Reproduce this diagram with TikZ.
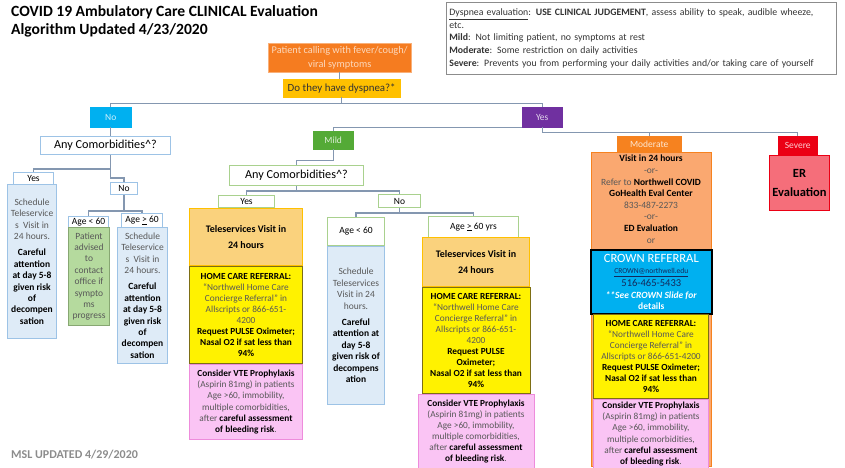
\documentclass[tikz,border=0pt]{standalone}
\usepackage{fontspec}
\setmainfont{Carlito}
\usetikzlibrary{positioning}

\definecolor{wirecol}{RGB}{132,151,176}
\definecolor{txtgray}{RGB}{88,88,88}
\definecolor{patorange}{RGB}{245,124,32}
\definecolor{amber}{RGB}{255,192,0}
\definecolor{nocyan}{RGB}{0,176,240}
\definecolor{yespurple}{RGB}{112,48,160}
\definecolor{mildgreen}{RGB}{84,170,54}
\definecolor{modorange}{RGB}{246,130,31}
\definecolor{sevred}{RGB}{235,0,20}
\definecolor{erpink}{RGB}{245,110,122}
\definecolor{peach}{RGB}{250,168,112}
\definecolor{tagblue}{RGB}{157,195,230}
\definecolor{paleblue}{RGB}{222,235,247}
\definecolor{taggreen}{RGB}{169,209,142}
\definecolor{palegreen}{RGB}{181,218,158}
\definecolor{lightamber}{RGB}{250,210,125}
\definecolor{yellowedge}{RGB}{125,110,20}
\definecolor{palepink}{RGB}{250,196,244}
\definecolor{pinkedge}{RGB}{238,140,220}
\definecolor{navy}{RGB}{20,40,90}
\definecolor{stampgray}{RGB}{140,140,140}

\newcommand{\bfk}[1]{\textbf{\color{black}#1}}

\begin{document}
\begin{tikzpicture}[x=1pt, y=-1pt,
  base/.style={align=center, inner sep=1pt, anchor=north west,
               font=\fontsize{9.5}{11.4}\selectfont},
  tag/.style={base, draw, fill=white, line width=1pt},
  bluetag/.style={tag, draw=tagblue},
  greentag/.style={tag, draw=taggreen},
  chip/.style={base, fill=#1, draw=#1, text=white!80!#1},
  bluebox/.style={base, draw=tagblue, fill=paleblue, text=txtgray, line width=1pt},
  greenbox/.style={base, draw=taggreen!80!black, fill=palegreen, text=txtgray, line width=1pt},
  telebox/.style={base, draw=amber, fill=lightamber, line width=1pt,
                  font=\fontsize{10}{12}\selectfont},
  homebox/.style={base, draw=yellowedge, fill=yellow, text=txtgray, line width=1pt,
                  font=\fontsize{9.3}{10.9}\selectfont},
  vtebox/.style={base, draw=pinkedge, fill=palepink, text=txtgray, line width=1pt,
                 font=\fontsize{9.3}{11.1}\selectfont},
  wire/.style={draw=wirecol, line width=1.4pt}
]
\useasboundingbox (0,0) rectangle (845,467);

% header and legend
\node[base, align=left, font=\fontsize{15.6}{18.5}\selectfont\bfseries] (title) at (10,4)
  {COVID 19 Ambulatory Care CLINICAL Evaluation\\Algorithm Updated 4/23/2020};
\node[base, draw=black!45, line width=0.8pt, align=left, text width=384pt, inner sep=3pt,
      text=black!80, font=\fontsize{9.8}{12.6}\selectfont, minimum height=72pt] (legend) at (446,2)
  {\underline{Dyspnea evaluation}: \textbf{USE CLINICAL JUDGEMENT}, assess ability to speak, audible wheeze,\\
   etc.\\
   \textbf{Mild}: Not limiting patient, no symptoms at rest\\
   \textbf{Moderate}: Some restriction on daily activities\\
   \textbf{Severe}: Prevents you from performing your daily activities and/or taking care of yourself};

% entry
\node[base, fill=patorange, draw=patorange!60!white, text=white!70!patorange,
      font=\fontsize{10.3}{14.5}\selectfont, minimum width=143pt, minimum height=29pt] (call) at (268,43)
  {Patient calling with fever/cough/\\viral symptoms};
\node[base, fill=amber, draw=amber, text=black!80, font=\fontsize{10.9}{12}\selectfont,
      minimum width=117pt, minimum height=18pt] (dysp) at (283,79) {Do they have dyspnea?*};

% severity chips
\node[chip=nocyan, minimum width=41pt, minimum height=20pt] (no) at (90,107) {No};
\node[chip=yespurple, minimum width=40pt, minimum height=20pt] (yes) at (522,107) {Yes};
\node[chip=mildgreen, minimum width=40pt, minimum height=18pt] (mild) at (313,131) {Mild};
\node[chip=modorange, minimum width=64pt, minimum height=16pt] (moderate) at (617,136) {Moderate};
\node[chip=sevred, minimum width=39pt, minimum height=18pt] (severe) at (778,136) {Severe};

% no dyspnea branch
\node[bluetag, font=\fontsize{12.2}{13}\selectfont, minimum width=130pt, minimum height=18pt] (comorbNo) at (40,136)
  {Any Comorbidities\textasciicircum?};
\node[bluetag, minimum width=40pt, minimum height=12pt] (yesNo) at (13,172) {Yes};
\node[bluebox, minimum width=49pt, minimum height=154pt] (teleNoYes) at (7,184)
  {Schedule\\Teleservice\\s~ Visit in\\24 hours.\\[5pt]\bfk{Careful}\\\bfk{attention}\\\bfk{at day 5-8}\\
   \bfk{given risk}\\\bfk{of}\\\bfk{decompen}\\\bfk{sation}};
\node[bluetag, minimum width=27pt, minimum height=12pt] (noNo) at (110,182) {No};
\node[bluetag, minimum width=40pt, minimum height=11pt] (youngNo) at (68,216) {Age < 60};
\node[greenbox, minimum width=41pt, minimum height=98pt] (advise) at (68,227)
  {Patient\\advised\\to\\contact\\office if\\sympto\\ms\\progress};
\node[bluetag, minimum width=41pt, minimum height=14pt] (oldNo) at (121,213) {Age \underline{>} 60};
\node[bluebox, minimum width=50pt, minimum height=136pt] (teleNoOld) at (117,227)
  {Schedule\\Teleservice\\s~ Visit in\\24 hours.\\[5pt]\bfk{Careful}\\\bfk{attention}\\\bfk{at day 5-8}\\
   \bfk{given risk}\\\bfk{of}\\\bfk{decompen}\\\bfk{sation}};

% mild branch
\node[greentag, font=\fontsize{12.2}{13}\selectfont, minimum width=134pt, minimum height=20pt] (comorbMild) at (229,165)
  {Any Comorbidities\textasciicircum?};
\node[greentag, minimum width=56pt, minimum height=12pt] (yesMild) at (218,195) {Yes};
\node[telebox, minimum width=113pt, minimum height=57pt] (teleMild) at (189,208)
  {\bfk{Teleservices Visit in}\\[4pt]\bfk{24 hours}};
\node[homebox, below=0pt of teleMild, minimum width=113pt, minimum height=97pt] (homeMild)
  {\bfk{HOME CARE REFERRAL:}\\“Northwell Home Care\\Concierge Referral” in\\Allscripts or 866-651-\\4200\\
   \bfk{Request PULSE Oximeter;}\\\bfk{Nasal O2 if sat less than}\\\bfk{94\%}};
\node[vtebox, below=0pt of homeMild, minimum width=113pt, minimum height=75pt] (vteMild)
  {\bfk{Consider VTE Prophylaxis}\\(Aspirin 81mg) in patients\\Age >60, immobility,\\multiple comorbidities,\\
   after \bfk{careful assessment}\\\bfk{of bleeding risk}.};
\node[greentag, minimum width=42pt, minimum height=13pt] (noMild) at (378,194) {No};
\node[greentag, minimum width=57pt, minimum height=28pt] (youngMild) at (327,217) {Age < 60};
\node[bluebox, below=0pt of youngMild, minimum width=57pt, minimum height=158pt] (teleMildYoung)
  {Schedule\\Teleservices\\Visit in 24\\hours.\\[5pt]\bfk{Careful}\\\bfk{attention at}\\\bfk{day 5-8}\\
   \bfk{given risk of}\\\bfk{decompens}\\\bfk{ation}};
\node[greentag, minimum width=90pt, minimum height=21pt] (oldMild) at (428,216) {Age \underline{>} 60 yrs};
\node[telebox, minimum width=107pt, minimum height=49pt] (teleMildOld) at (422,237)
  {\bfk{Teleservices Visit in}\\[4pt]\bfk{24 hours}};
\node[homebox, below=0pt of teleMildOld, minimum width=108pt, minimum height=106pt] (homeMildOld)
  {\bfk{HOME CARE REFERRAL:}\\“Northwell Home Care\\Concierge Referral” in\\Allscripts or 866-651-\\4200\\
   \bfk{Request PULSE}\\\bfk{Oximeter;}\\\bfk{Nasal O2 if sat less than}\\\bfk{94\%}};
\node[vtebox, below=0pt of homeMildOld, minimum width=116pt, minimum height=74pt] (vteMildOld)
  {\bfk{Consider VTE Prophylaxis}\\(Aspirin 81mg) in patients\\Age >60, immobility,\\multiple comorbidities,\\
   after \bfk{careful assessment}\\\bfk{of bleeding risk}.};

% moderate branch
\node[base, draw=modorange, fill=peach, line width=1pt, minimum width=120pt, minimum height=314pt] (modFrame) at (591,152) {};
\node[base, anchor=north, text=txtgray, font=\fontsize{9.5}{11.6}\selectfont] (modText) at (651,154)
  {\bfk{Visit in 24 hours}\\-or-\\Refer to \bfk{Northwell COVID}\\\bfk{GoHealth Eval Center}\\833-487-2273\\-or-\\
   \bfk{ED Evaluation}\\or};
\node[base, draw=black, line width=1.6pt, fill=nocyan, text=white, minimum width=121pt, minimum height=64pt] (crown) at (590,249)
  {{\fontsize{12.6}{13}\selectfont CROWN REFERRAL}\\{\fontsize{7.5}{9}\selectfont\color{navy}\underline{CROWN@northwell.edu}}\\[2pt]
   {\fontsize{10.5}{12}\selectfont\color{navy}516-465-5433}\\\textbf{\textit{**See CROWN Slide for}}\\\textbf{details}};
\node[homebox, minimum width=115pt, minimum height=84pt] (homeMod) at (593,314)
  {\bfk{HOME CARE REFERRAL:}\\“Northwell Home Care\\Concierge Referral” in\\Allscripts or 866-651-4200\\
   \bfk{Request PULSE Oximeter;}\\\bfk{Nasal O2 if sat less than}\\\bfk{94\%}};
\node[vtebox, below=0pt of homeMod, minimum width=115pt, minimum height=69pt] (vteMod)
  {\bfk{Consider VTE Prophylaxis}\\(Aspirin 81mg) in patients\\Age >60, immobility,\\multiple comorbidities,\\
   after \bfk{careful assessment}\\\bfk{of bleeding risk}.};

% severe branch
\node[base, draw=sevred, fill=erpink, line width=1pt, font=\fontsize{12.5}{15}\selectfont,
      minimum width=60pt, minimum height=55pt] (er) at (769,155) {\bfk{ER}\\[4pt]\bfk{Evaluation}};

\node[base, anchor=west, text=stampgray, font=\fontsize{12}{14}\selectfont\bfseries] (stamp) at (10,455)
  {MSL UPDATED 4/29/2020};

% connectors
\draw[wire] (call.south) -- (call.south |- dysp.north);
\draw[wire] (dysp.south) -- ++(0,6) -| (no.north);
\draw[wire] (dysp.south) ++(0,6) -| (yes.north);
\draw[wire] (no.south) -- (no.south |- comorbNo.north);
\draw[wire] (no.south |- comorbNo.south) -- ++(0,14) -| (yesNo.north);
\draw[wire] (no.south |- comorbNo.south) -- ++(0,23) -| (noNo.north);
\draw[wire] (noNo.south) -- ++(0,16) -| (youngNo.north);
\draw[wire] (noNo.south) ++(0,16) -| (oldNo.north);
\draw[wire] (yes.south west) -| (mild.north);
\draw[wire] (yes.south) -- ++(0,5) -| (moderate.north);
\draw[wire] (yes.south) ++(0,5) -| (severe.north);
\draw[wire] (mild.south) -- ++(0,11) -| (comorbMild.north);
\draw[wire] (comorbMild.south) -- ++(0,5) -| (yesMild.north);
\draw[wire] (comorbMild.south) ++(0,5) -| (noMild.north);
\draw[wire] (noMild.south) -- ++(0,5) -| (youngMild.north);
\draw[wire] (noMild.south) ++(0,5) -| (oldMild.north);
\end{tikzpicture}
\end{document}
